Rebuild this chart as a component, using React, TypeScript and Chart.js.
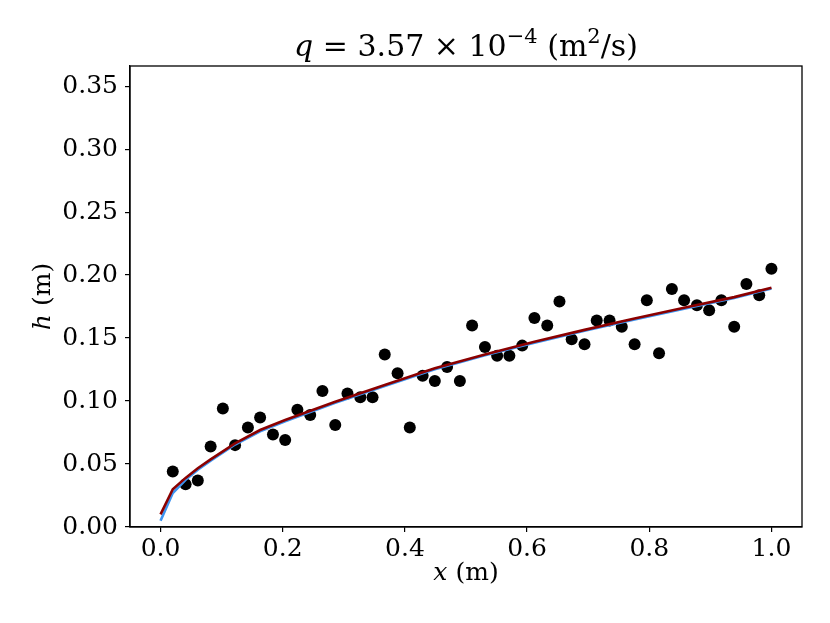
import { useEffect, useRef } from 'react';
import { Chart, registerables } from 'chart.js';

Chart.register(...registerables);

// measured points (x in m, h in m)
const xPoints = [
  0.020, 0.041, 0.061, 0.082, 0.102, 0.122, 0.143, 0.163, 0.184, 0.204,
  0.224, 0.245, 0.265, 0.286, 0.306, 0.327, 0.347, 0.367, 0.388, 0.408,
  0.429, 0.449, 0.469, 0.490, 0.510, 0.531, 0.551, 0.571, 0.592, 0.612,
  0.633, 0.653, 0.673, 0.694, 0.714, 0.735, 0.755, 0.776, 0.796, 0.816,
  0.837, 0.857, 0.878, 0.898, 0.918, 0.939, 0.959, 0.980, 1.000,
];
const hPoints = [
  0.044, 0.034, 0.037, 0.064, 0.094, 0.065, 0.079, 0.087, 0.0735, 0.069,
  0.093, 0.089, 0.108, 0.081, 0.106, 0.103, 0.103, 0.137, 0.122, 0.079,
  0.120, 0.116, 0.127, 0.116, 0.160, 0.143, 0.136, 0.136, 0.144, 0.166,
  0.160, 0.179, 0.149, 0.145, 0.164, 0.164, 0.159, 0.145, 0.180, 0.138,
  0.189, 0.180, 0.176, 0.172, 0.180, 0.159, 0.193, 0.184, 0.205,
];

// fitted curves
const xCurve = [0, 0.020, 0.041, 0.061, 0.082, 0.122, 0.163, 0.204, 0.286, 0.367, 0.449, 0.531, 0.612, 0.694, 0.776, 0.857, 0.939, 1.0];
const hRed = [0.010, 0.030, 0.039, 0.0466, 0.0537, 0.0664, 0.077, 0.0849, 0.0995, 0.1127, 0.126, 0.137, 0.147, 0.1565, 0.1655, 0.174, 0.1825, 0.190];
const hBlue = [0.005, 0.027, 0.0375, 0.0455, 0.0527, 0.0655, 0.076, 0.0840, 0.0987, 0.1120, 0.1253, 0.1363, 0.1463, 0.1558, 0.1648, 0.1733, 0.1818, 0.1893];

const xTicks = [0, 0.2, 0.4, 0.6, 0.8, 1.0];
const yTicks = [0, 0.05, 0.1, 0.15, 0.2, 0.25, 0.3, 0.35];

const FONT = '"DejaVu Serif", serif';

type Seg = { t: string; italic?: boolean; sup?: boolean };

function drawRich(ctx: CanvasRenderingContext2D, segs: Seg[], cx: number, baseline: number, size: number) {
  const fontOf = (s: Seg) => `${s.italic ? 'italic ' : ''}${s.sup ? Math.round(size * 0.7) : size}px ${FONT}`;
  let total = 0;
  const widths = segs.map(s => {
    ctx.font = fontOf(s);
    const w = ctx.measureText(s.t).width;
    total += w;
    return w;
  });
  let x = cx - total / 2;
  ctx.textAlign = 'left';
  ctx.textBaseline = 'alphabetic';
  segs.forEach((s, i) => {
    ctx.font = fontOf(s);
    ctx.fillText(s.t, x, baseline - (s.sup ? size * 0.42 : 0));
    x += widths[i];
  });
}

const textPlugin = {
  id: 'mplText',
  afterDraw(chart: Chart) {
    const { ctx, chartArea } = chart;
    const { left, right, top, bottom } = chartArea;
    ctx.save();
    // frame
    ctx.strokeStyle = '#000';
    ctx.lineWidth = 1.3;
    ctx.strokeRect(left, top, right - left, bottom - top);
    ctx.fillStyle = '#000';
    const cx = (left + right) / 2;
    // title
    drawRich(ctx, [
      { t: 'q', italic: true },
      { t: ' = 3.57 × 10' },
      { t: '−4', sup: true },
      { t: ' (m' },
      { t: '2', sup: true },
      { t: '/s)' },
    ], cx, 56, 30);
    // x label
    drawRich(ctx, [{ t: 'x', italic: true }, { t: ' (m)' }], cx, 580, 25);
    // y label
    ctx.translate(50, (top + bottom) / 2);
    ctx.rotate(-Math.PI / 2);
    drawRich(ctx, [{ t: 'h', italic: true }, { t: ' (m)' }], 0, 0, 25);
    ctx.restore();
  },
};

export default function App() {
  const canvasRef = useRef<HTMLCanvasElement>(null);

  useEffect(() => {
    if (!canvasRef.current) return;
    const chart = new Chart(canvasRef.current, {
      type: 'scatter',
      data: {
        datasets: [
          {
            label: 'fit',
            data: xCurve.map((x, i) => ({ x, y: hRed[i] })),
            showLine: true,
            borderColor: '#8b0000',
            borderWidth: 2.6,
            pointRadius: 0,
            order: 0,
          },
          {
            label: 'fit2',
            data: xCurve.map((x, i) => ({ x, y: hBlue[i] })),
            showLine: true,
            borderColor: '#3d94f0',
            borderWidth: 2.6,
            pointRadius: 0,
            order: 1,
          },
          {
            label: 'data',
            data: xPoints.map((x, i) => ({ x, y: hPoints[i] })),
            backgroundColor: '#000',
            borderWidth: 0,
            pointRadius: 6,
            order: 2,
          },
        ],
      },
      options: {
        animation: false,
        responsive: true,
        maintainAspectRatio: false,
        layout: { padding: { left: 0, right: 28, top: 66, bottom: 0 } },
        plugins: {
          legend: { display: false },
          tooltip: { enabled: false },
          title: { display: false },
        },
        scales: {
          x: {
            type: 'linear',
            min: -0.05,
            max: 1.05,
            afterBuildTicks: (scale: any) => {
              scale.ticks = xTicks.map(v => ({ value: v }));
            },
            afterFit: (scale: any) => {
              scale.height = 96;
            },
            ticks: {
              color: '#000',
              font: { family: FONT, size: 25, lineHeight: 1.2 },
              padding: 2,
              maxRotation: 0,
              callback: (v: any) => Number(v).toFixed(1),
            },
            grid: { display: true, drawOnChartArea: false, drawTicks: true, tickLength: 5, color: '#000', lineWidth: 1.2 },
            border: { display: true, color: '#000', width: 1.3 },
          },
          y: {
            type: 'linear',
            min: 0,
            max: 0.366,
            afterBuildTicks: (scale: any) => {
              scale.ticks = yTicks.map(v => ({ value: v }));
            },
            afterFit: (scale: any) => {
              scale.width = 130;
            },
            ticks: {
              color: '#000',
              font: { family: FONT, size: 25, lineHeight: 1.2 },
              padding: 7,
              callback: (v: any) => Number(v).toFixed(2),
            },
            grid: { display: true, drawOnChartArea: false, drawTicks: true, tickLength: 5, color: '#000', lineWidth: 1.2 },
            border: { display: true, color: '#000', width: 1.3 },
          },
        },
      },
      plugins: [textPlugin],
    });
    return () => chart.destroy();
  }, []);

  return (
    <div style={{ position: 'absolute', left: 0, top: 0, width: 830, height: 623, background: '#fff' }}>
      <canvas ref={canvasRef}></canvas>
    </div>
  );
}
